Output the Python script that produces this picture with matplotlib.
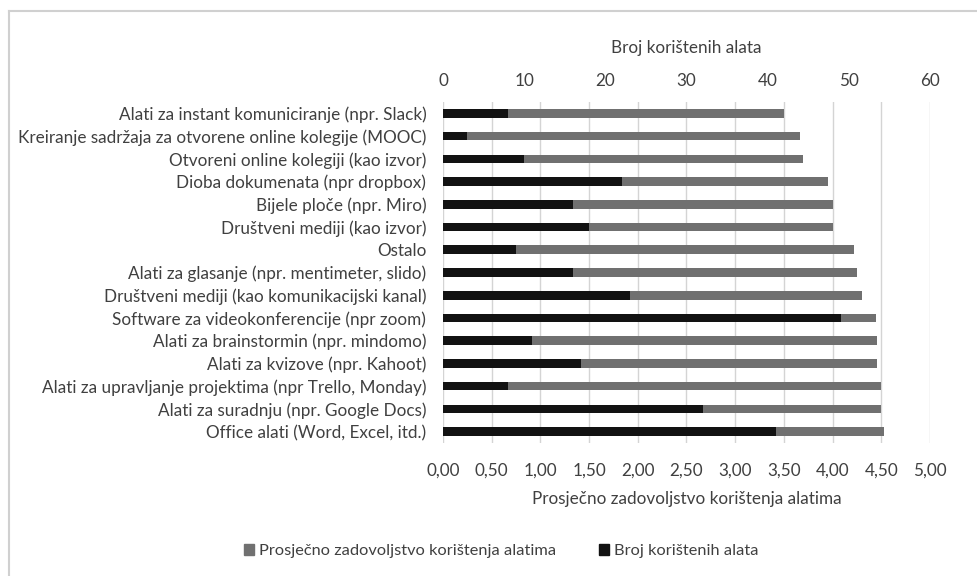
import numpy as np
import matplotlib
matplotlib.use("Agg")
import matplotlib.pyplot as plt
from matplotlib.lines import Line2D
from matplotlib.patches import Patch

plt.rcParams['font.family'] = ['Lato', 'DejaVu Sans']

# categories top to bottom
alati = [
    "Alati za instant komuniciranje (npr. Slack)",
    "Kreiranje sadržaja za otvorene online kolegije (MOOC)",
    "Otvoreni online kolegiji (kao izvor)",
    "Dioba dokumenata (npr dropbox)",
    "Bijele ploče (npr. Miro)",
    "Društveni mediji (kao izvor)",
    "Ostalo",
    "Alati za glasanje (npr. mentimeter, slido)",
    "Društveni mediji (kao komunikacijski kanal)",
    "Software za videokonferencije (npr zoom)",
    "Alati za brainstormin (npr. mindomo)",
    "Alati za kvizove (npr. Kahoot)",
    "Alati za upravljanje projektima (npr Trello, Monday)",
    "Alati za suradnju (npr. Google Docs)",
    "Office alati (Word, Excel, itd.)",
]
zadovoljstvo = [3.50, 3.67, 3.70, 3.95, 4.00, 4.00, 4.22, 4.25, 4.30,
                4.45, 4.46, 4.46, 4.50, 4.50, 4.53]
broj = [8, 3, 10, 22, 16, 18, 9, 16, 23, 49, 11, 17, 8, 32, 41]

sive = "#707070"
crna = "#121212"
tekst = "#404040"
fs = 12.3

fig = plt.figure(figsize=(9.77, 5.76), dpi=100)
ax = fig.add_axes([0.4534, 0.2309, 0.4985, 0.592])
y = np.arange(len(alati))
h = 0.38

ax.barh(y, zadovoljstvo, height=h, color=sive, zorder=2)
ax.set_xlim(0, 5)
ax.set_ylim(len(alati) - 0.5, -0.5)
ax.set_xticks(np.arange(0, 5.01, 0.5))
ax.set_xticklabels([f"{v:.2f}".replace(".", ",") for v in np.arange(0, 5.01, 0.5)])
ax.set_yticks(y)
ax.set_yticklabels(alati)
ax.grid(axis="x", color="#d4d4d4", linewidth=1, zorder=0)
ax.set_axisbelow(True)
ax.tick_params(length=0, labelsize=fs, colors=tekst, pad=14)
ax.tick_params(axis="y", pad=12)
ax.set_xlabel("Prosječno zadovoljstvo korištenja alatima", fontsize=fs,
              color=tekst, labelpad=9)

ax2 = ax.twiny()
ax2.barh(y, broj, height=h, color=crna, zorder=3)
ax2.set_xlim(0, 60)
ax2.set_xticks(np.arange(0, 61, 10))
ax2.tick_params(length=0, labelsize=fs, colors=tekst, pad=9.5)
ax2.set_xlabel("Broj korištenih alata", fontsize=fs, color=tekst, labelpad=14)

for a in (ax, ax2):
    for s in a.spines.values():
        s.set_visible(False)

handles = [Patch(color=sive), Patch(color=crna)]
fig.legend(handles, ["Prosječno zadovoljstvo korištenja alatima", "Broj korištenih alata"],
           loc="center", bbox_to_anchor=(0.513, 0.043), ncol=2, frameon=False,
           fontsize=11.8, labelcolor=tekst, handlelength=0.6, handleheight=0.6,
           handletextpad=0.3, columnspacing=2.6)

# chart frame
fig.add_artist(Line2D([0.009, 0.009], [0, 0.981], color="#d0d0d0", lw=1.5))
fig.add_artist(Line2D([0.009, 1], [0.981, 0.981], color="#d0d0d0", lw=1.5))

fig.savefig("out.png", dpi=100)
